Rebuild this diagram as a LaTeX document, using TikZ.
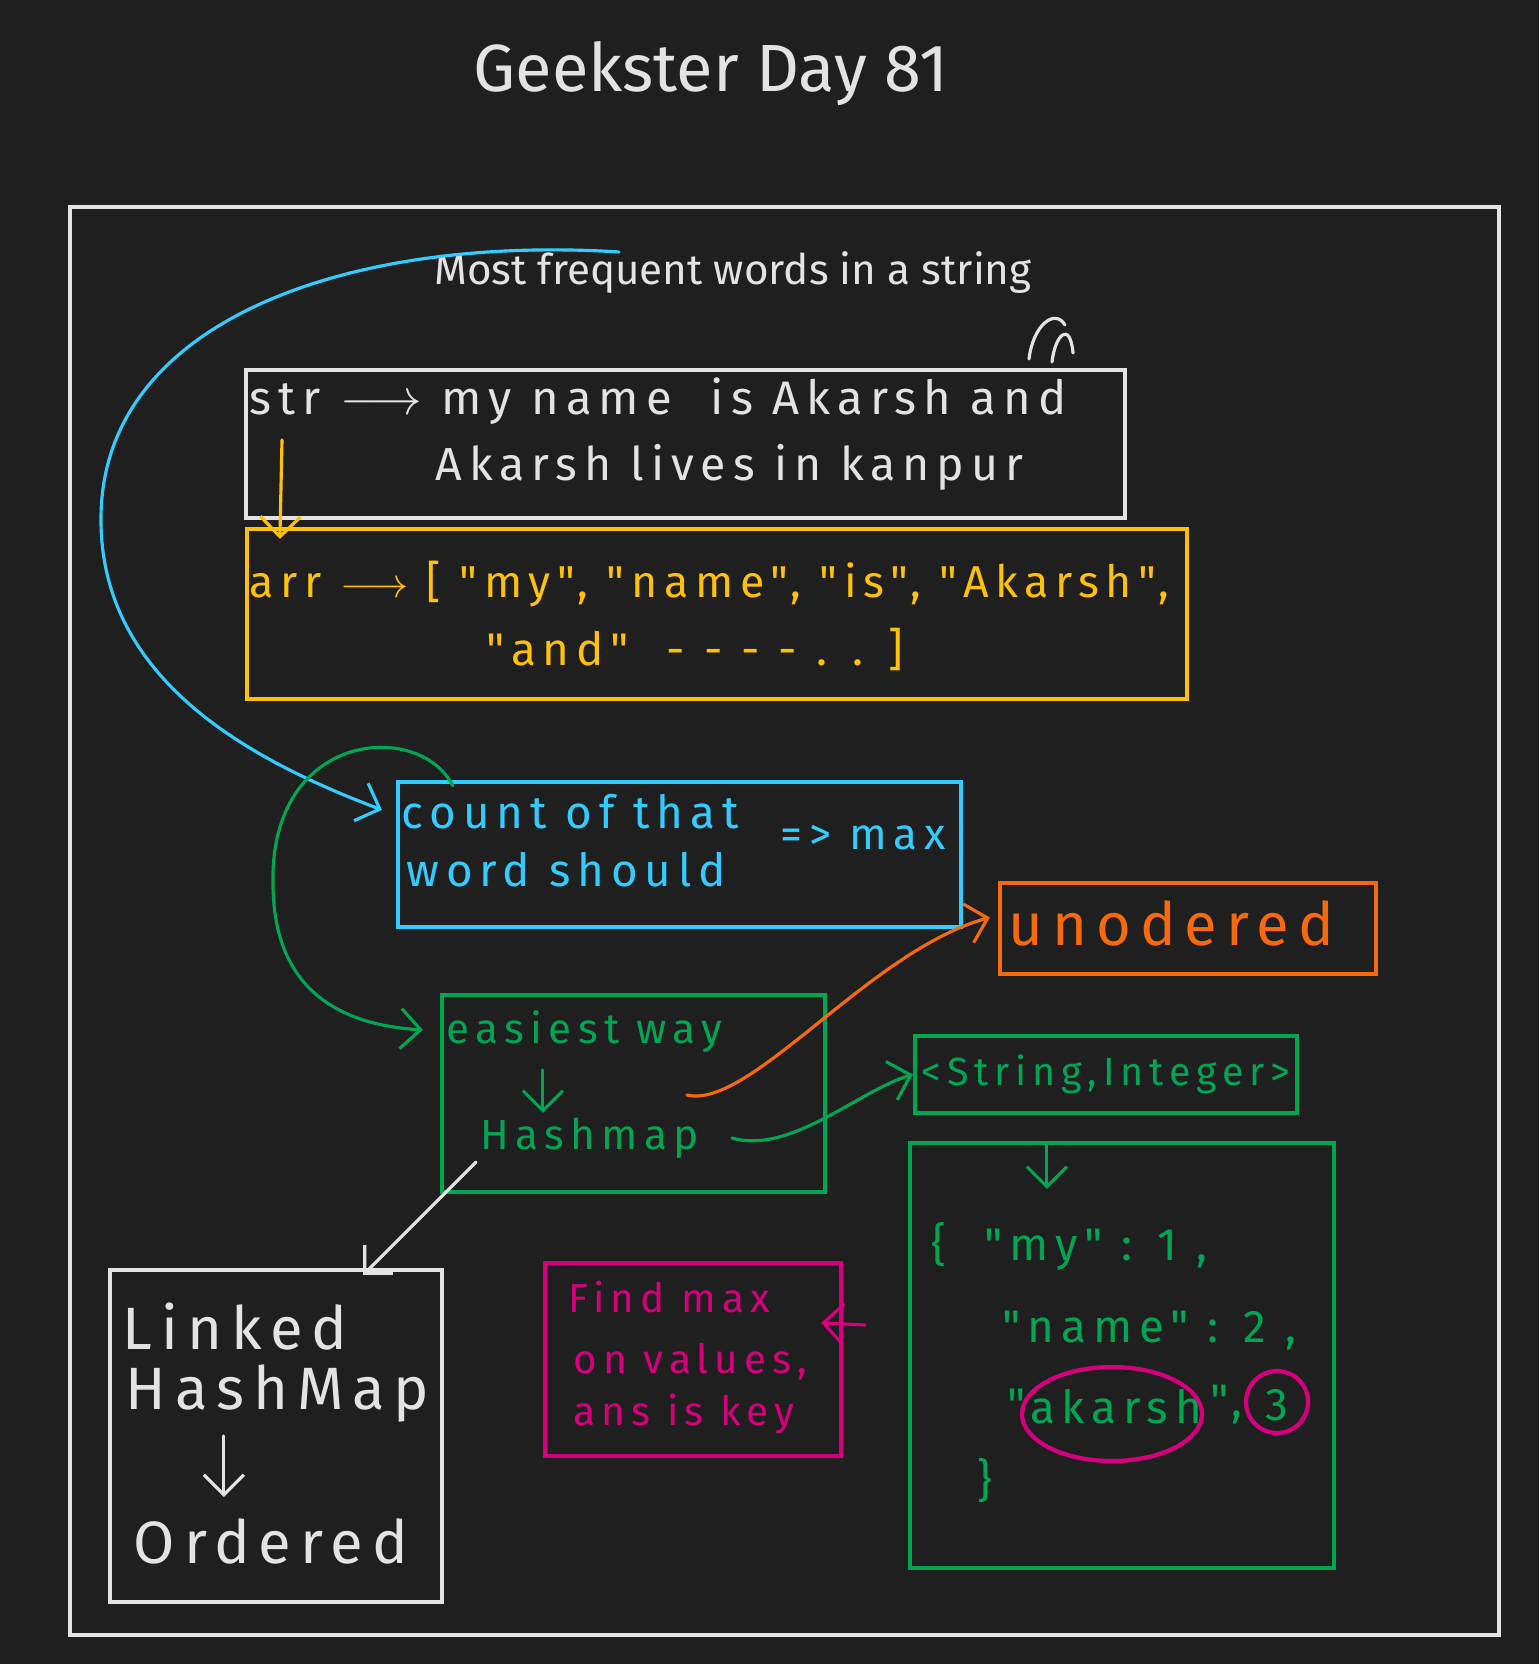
\documentclass[tikz,border=0pt]{standalone}
\usepackage{fontspec}
\setmainfont{Fira Sans}
\newfontfamily\spaced[LetterSpace=15]{Fira Sans}
\usetikzlibrary{arrows.meta,positioning,shapes.geometric,calc}

\definecolor{bg}{HTML}{1F1F1F}
\definecolor{chalk}{HTML}{E3E3E3}
\definecolor{amber}{HTML}{FFC107}
\definecolor{sky}{HTML}{33CCFF}
\definecolor{leaf}{HTML}{00A652}
\definecolor{tang}{HTML}{F76A0C}
\definecolor{berry}{HTML}{D6007E}

\begin{document}
\begin{tikzpicture}[
    box/.style 2 args={draw, line width=1.2pt, inner sep=0pt, minimum width=#1, minimum height=#2},
    txt/.style={anchor=west, inner sep=0pt, font=\spaced\fontsize{13}{15}\selectfont},
    small/.style={font=\spaced\fontsize{11.5}{14}\selectfont},
    big/.style={font=\spaced\fontsize{17}{20}\selectfont},
    arrow/.style={-{Straight Barb[length=2mm,width=4mm]}, line width=0.9pt, line cap=round},
    stroke/.style={line width=0.9pt, line cap=round}
]
\fill[bg] (0,0) rectangle (15.39,-16.64);
\useasboundingbox (0,0) rectangle (15.39,-16.64);

% ---------- Title and frame ----------
\node[text=chalk, font=\fontsize{19}{22}\selectfont] (title) at (7.11,-0.74) {Geekster Day 81};
\node[box={14.29cm}{14.28cm}, draw=chalk, line width=0.9pt] (frame) at (7.845,-9.21) {};
\node[text=chalk, font=\fontsize{12}{14}\selectfont] (head) at (7.33,-2.73) {Most frequent words in a string};

% ---------- Input string ----------
\node[box={8.79cm}{1.48cm}, draw=chalk] (strbox) at (6.855,-4.44) {};
\node[txt, text=chalk, font=\spaced\fontsize{13.4}{15}\selectfont] (strA) at (2.49,-4.01) {str $\longrightarrow$ my name \ is Akarsh and};
\node[txt, text=chalk, font=\spaced\fontsize{13.2}{15}\selectfont] (strB) at (4.35,-4.67) {Akarsh lives in kanpur};
\draw[stroke, chalk] (10.29,-3.59) .. controls (10.33,-3.25) and (10.55,-3.08) .. (10.65,-3.25);
\draw[stroke, chalk] (10.52,-3.62) .. controls (10.55,-3.35) and (10.70,-3.20) .. (10.73,-3.53);

% ---------- Split array ----------
\node[box={9.40cm}{1.70cm}, draw=amber] (arrbox) at (7.17,-6.14) {};
\node[txt, text=amber, font=\spaced\fontsize{12.7}{15}\selectfont] (arrA) at (2.49,-5.84) {arr $\longrightarrow$ [ "my", "name", "is", "Akarsh",};
\node[txt, text=amber] (arrB) at (4.86,-6.50) {"and" \ - - - - . . ]};
\coordinate (sdrop) at (2.82,-4.40);
\draw[arrow, amber] (sdrop) -- ($(arrbox.north west)+(0.35,-0.12)$);

% ---------- Counting ----------
\node[box={5.63cm}{1.45cm}, draw=sky] (count) at (6.795,-8.545) {};
\node[txt, text=sky] (cntA) at (4.01,-8.12) {count of that};
\node[txt, text=sky] (cntB) at (4.06,-8.70) {word should};
\node[txt, text=sky, font=\spaced\fontsize{12.5}{15}\selectfont] (cntC) at (7.80,-8.38) {=> max};
\coordinate (blue0) at (6.19,-2.52);
\draw[arrow, sky] (blue0) .. controls (3.5,-2.35) and (1.0,-3.2) .. (1.01,-5.20)
    .. controls (1.01,-6.8) and (2.5,-7.6) .. ($(count.north west)+(-0.14,-0.30)$);

% ---------- Unordered ----------
\node[box={3.76cm}{0.91cm}, draw=tang] (unod) at (11.88,-9.285) {};
\node[txt, big, text=tang] (unodT) at (10.08,-9.23) {unodered};

% ---------- Easiest way ----------
\node[box={3.83cm}{1.97cm}, draw=leaf] (easy) at (6.335,-10.935) {};
\node[txt, text=leaf, font=\spaced\fontsize{12}{14}\selectfont] (way) at (4.46,-10.32) {easiest way};
\node[txt, text=leaf, font=\spaced\fontsize{12}{14}\selectfont] (hmap) at (4.80,-11.38) {Hashmap};
\draw[arrow, leaf] ($(easy.north west)+(1.03,-0.77)$) -- ++(0,-0.43);
\draw[arrow, leaf] ($(count.north west)+(0.57,-0.06)$) .. controls (4.2,-7.2) and (2.7,-7.3) .. (2.73,-8.83)
    .. controls (2.73,-9.9) and (3.4,-10.25) .. ($(easy.north west)+(-0.17,-0.37)$);

% ---------- Map type ----------
\node[box={3.82cm}{0.77cm}, draw=leaf] (strint) at (11.06,-10.745) {};
\node[text=leaf, inner sep=0pt, font=\spaced\fontsize{11.2}{14}\selectfont] (strintT) at (11.06,-10.74) {<String,Integer>};
\coordinate (hm1) at (7.32,-11.38);
\coordinate (hm2) at (6.87,-10.95);
\coordinate (hm3) at (4.76,-11.62);
\draw[arrow, leaf] (hm1) .. controls (7.9,-11.55) and (8.6,-10.9) .. (strint.west);
\draw[arrow, tang] (hm2) .. controls (7.5,-11.1) and (8.7,-9.5) .. ($(unod.west)+(-0.08,0.11)$);

% ---------- Map contents ----------
\node[box={4.24cm}{4.25cm}, draw=leaf] (mapbox) at (11.22,-13.555) {};
\draw[arrow, leaf] ($(mapbox.north west)+(1.39,-0.03)$) -- ++(0,-0.45);
\node[txt, text=leaf] (rowA) at (9.31,-12.46) {\{ \ "my" : 1 ,};
\node[txt, text=leaf] (rowB) at (10.02,-13.31) {"name" : 2 ,};
\node[txt, text=leaf] (rowC) at (10.07,-14.05) {"};
\node[txt, text=leaf, anchor=center] (akr) at (11.16,-14.07) {akarsh};
\node[txt, text=leaf] (rowD) at (12.10,-14.05) {",};
\node[txt, text=leaf, anchor=center] (three) at (12.77,-14.05) {3};
\node[txt, text=leaf, anchor=center] (rowE) at (9.85,-14.80) {\}};
\node[ellipse, draw=berry, line width=1.2pt, minimum width=1.80cm, minimum height=0.94cm] (ring) at (11.12,-14.14) {};
\node[circle, draw=berry, line width=1.2pt, minimum size=0.62cm] (dot) at (12.77,-14.02) {};

% ---------- Find max ----------
\node[box={2.96cm}{1.93cm}, draw=berry] (find) at (6.93,-13.595) {};
\node[txt, small, text=berry] (findA) at (5.68,-12.97) {Find max};
\node[txt, small, text=berry] (findB) at (5.73,-13.62) {on values,};
\node[txt, small, text=berry] (findC) at (5.73,-14.14) {ans is key};
\coordinate (pk) at (8.65,-13.25);
\draw[arrow, berry] (pk) -- ($(find.north east)+(-0.22,-0.62)$);

% ---------- Linked HashMap ----------
\node[box={3.32cm}{3.32cm}, draw=chalk] (lhm) at (2.76,-14.36) {};
\node[txt, big, text=chalk] (lhmA) at (1.22,-13.27) {Linked};
\node[txt, big, text=chalk] (lhmB) at (1.25,-13.94) {HashMap};
\node[txt, big, text=chalk] (lhmC) at (1.33,-15.41) {Ordered};
\draw[arrow, chalk] ($(lhm.north west)+(1.16,-1.68)$) -- ++(0,-0.61);
\draw[arrow, chalk] (hm3) -- ($(lhm.north east)+(-0.81,-0.07)$);

\end{tikzpicture}
\end{document}
